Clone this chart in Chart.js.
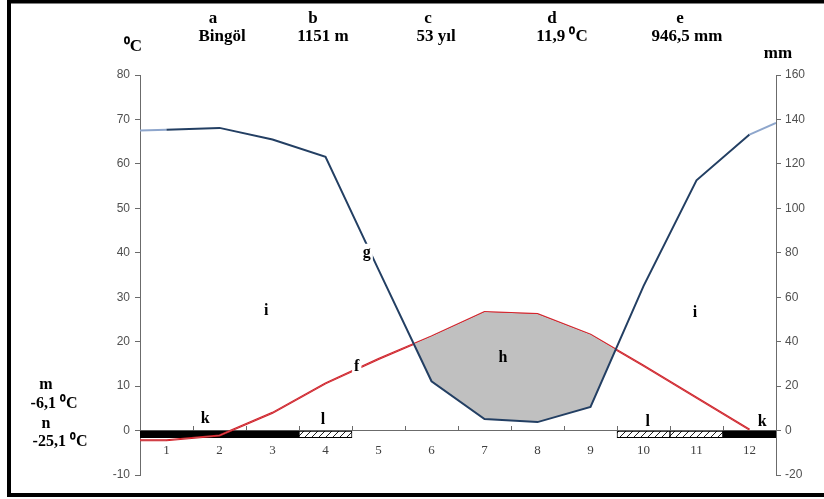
<!DOCTYPE html>
<html>
<head>
<meta charset="utf-8">
<script src="https://cdn.jsdelivr.net/npm/chart.js"></script>
<style>
  html, body { margin: 0; padding: 0; background: #fff; }
  #wrap { width: 824px; height: 499px; }
</style>
</head>
<body>
<div id="wrap"><canvas id="climateChart" width="824" height="499"></canvas></div>
<script>
// Bingöl climate diagram (Walter-Lieth style)
const months = ['1', '2', '3', '4', '5', '6', '7', '8', '9', '10', '11', '12'];
const temperature = [-2.2, -1.1, 4.0, 10.6, 16.1, 21.2, 26.7, 26.2, 21.6, 14.6, 7.4, 0.2];
const precipitation = [135.4, 136.2, 131.0, 123.2, 72.4, 22.2, 5.2, 3.8, 10.6, 65.0, 112.6, 133.2];
// values at the left / right border of the diagram
const tempBorderLeft = -2.2;
const precipBorders = [135.0, 138.4];
// k = frost months, l = possible frost months
const frost = ['k', 'k', 'k', 'l', null, null, null, null, null, 'l', 'l', 'k'];

const header = [
  ['a', 'Bingöl'], ['b', '1151 m'], ['c', '53 yıl'], ['d', '11,9 ⁰C'], ['e', '946,5 mm']
];

const frostDepth = 1.6;
const serif = '"Liberation Serif", "Times New Roman", serif';

// hatch pattern for possible frost
const hc = document.createElement('canvas');
hc.width = 7; hc.height = 7;
const hctx = hc.getContext('2d');
hctx.fillStyle = '#fff';
hctx.fillRect(0, 0, 7, 7);
hctx.strokeStyle = '#222';
hctx.lineWidth = 1;
hctx.beginPath();
hctx.moveTo(0, 7); hctx.lineTo(7, 0);
hctx.moveTo(-1, 1); hctx.lineTo(1, -1);
hctx.moveTo(6, 8); hctx.lineTo(8, 6);
hctx.stroke();
const hatch = hctx.createPattern(hc, 'repeat');

const tempPoints = [{x: 0.5, y: tempBorderLeft}].concat(temperature.map((t, i) => ({x: i + 1, y: t})));
const precipPoints = [{x: 0.5, y: precipBorders[0]}]
  .concat(precipitation.map((p, i) => ({x: i + 1, y: p})))
  .concat([{x: 12.5, y: precipBorders[1]}]);

const labelsPlugin = {
  id: 'climateLabels',
  afterDatasetsDraw(chart) {
    const {ctx, scales} = chart;
    const x = scales.x, y = scales.y;
    ctx.save();
    ctx.font = 'bold 16px ' + serif;
    ctx.fillStyle = '#000';
    ctx.textAlign = 'center';
    ctx.textBaseline = 'middle';
    const inner = [
      ['g', 4.78, 40, true], ['f', 4.59, 14.4, true],
      ['i', 2.88, 27], ['i', 10.97, 26.5], ['h', 7.35, 16.4],
      ['k', 1.73, 2.7], ['k', 12.24, 2.0], ['l', 3.95, 2.5], ['l', 10.08, 2.0]
    ];
    inner.forEach(([t, vx, vy, boxed]) => {
      const px = x.getPixelForValue(vx), py = y.getPixelForValue(vy);
      if (boxed) {
        const w = ctx.measureText(t).width + 4;
        ctx.fillStyle = '#fff';
        ctx.fillRect(px - w / 2, py - 9, w, 18);
        ctx.fillStyle = '#000';
      }
      ctx.fillText(t, px, py);
    });
    ctx.restore();
  },
  afterDraw(chart) {
    const ctx = chart.ctx;
    ctx.save();
    ctx.fillStyle = '#000';
    ctx.textAlign = 'center';
    ctx.textBaseline = 'middle';
    ctx.font = 'bold 17px ' + serif;
    const hx = [[213, 222], [313, 323], [428, 436], [552, 562], [680, 687]];
    header.forEach(([l, v], i) => {
      ctx.fillText(l, hx[i][0], 19);
      ctx.fillText(v, hx[i][1], 37);
    });
    ctx.fillText('⁰C', 133, 47);
    ctx.fillText('mm', 778, 54);
    ctx.font = 'bold 16px ' + serif;
    ctx.fillText('m', 46, 385);
    ctx.fillText('-6,1 ⁰C', 54, 404);
    ctx.fillText('n', 46, 424);
    ctx.fillText('-25,1 ⁰C', 60, 442);
    // frame
    ctx.strokeStyle = '#000';
    ctx.lineWidth = 4;
    ctx.strokeRect(9, 1.5, 830, 493.5);
    ctx.restore();
  }
};

const ctx = document.getElementById('climateChart').getContext('2d');
const axisGray = '#6b6b6b';

const climateChart = new Chart(ctx, {
  type: 'line',
  data: {
    datasets: [
      {
        type: 'bar',
        label: 'Don',
        xAxisID: 'xc',
        yAxisID: 'y',
        data: frost.map(f => (f ? [0, -frostDepth] : null)),
        backgroundColor: c => (frost[c.dataIndex] === 'k' ? '#000' : frost[c.dataIndex] === 'l' ? hatch : 'rgba(0,0,0,0)'),
        borderColor: '#000',
        borderWidth: c => (frost[c.dataIndex] === 'l' ? 1 : 0),
        borderSkipped: false,
        grouped: false,
        barPercentage: 1,
        categoryPercentage: 1,
        order: 3
      },
      {
        type: 'line',
        label: 'Sıcaklık',
        xAxisID: 'x',
        yAxisID: 'y',
        data: tempPoints,
        borderColor: '#d4232b',
        borderWidth: 2,
        pointRadius: 0,
        tension: 0,
        fill: false,
        order: 2
      },
      {
        type: 'line',
        label: 'Yağış',
        xAxisID: 'x',
        yAxisID: 'y2',
        data: precipPoints,
        borderColor: '#233f63',
        segment: {
          borderColor: s => (s.p0DataIndex === 0 || s.p1DataIndex === precipPoints.length - 1 ? '#8ea6cc' : undefined)
        },
        borderWidth: 2,
        pointRadius: 0,
        tension: 0,
        fill: {target: 1, above: 'rgba(0,0,0,0)', below: '#c0c0c0'},
        order: 1
      }
    ]
  },
  options: {
    responsive: false,
    animation: false,
    layout: {padding: {top: 75, bottom: 24, left: 0, right: 0}},
    plugins: {
      legend: {display: false},
      tooltip: {enabled: false}
    },
    scales: {
      x: {
        type: 'linear',
        min: 0.5,
        max: 12.5,
        position: {y: 0},
        afterBuildTicks: s => { s.ticks = months.map((m, i) => ({value: i + 1})); },
        ticks: {
          callback: v => months[v - 1],
          color: '#404040',
          font: {family: serif, size: 13},
          padding: 12,
          maxRotation: 0,
          autoSkip: false
        },
        grid: {drawOnChartArea: false, drawTicks: false},
        border: {color: axisGray, width: 1}
      },
      xb: {
        type: 'linear',
        min: 0.5,
        max: 12.5,
        position: {y: 0},
        afterBuildTicks: s => { s.ticks = months.slice(1).map((m, i) => ({value: i + 1.5})); },
        ticks: {display: false},
        grid: {drawOnChartArea: false, tickLength: -5, color: axisGray},
        border: {display: false}
      },
      xc: {
        type: 'category',
        labels: months,
        offset: true,
        display: false
      },
      y: {
        position: 'left',
        min: -10,
        max: 80,
        ticks: {stepSize: 10, color: '#505050', font: {family: '"Liberation Sans", Arial, sans-serif', size: 12}, padding: 5},
        grid: {drawOnChartArea: false, tickLength: 5, color: axisGray},
        border: {color: axisGray, width: 1},
        afterFit: s => { s.width = 140; }
      },
      y2: {
        position: 'right',
        min: -20,
        max: 160,
        ticks: {stepSize: 20, color: '#505050', font: {family: '"Liberation Sans", Arial, sans-serif', size: 12}, padding: 4},
        grid: {drawOnChartArea: false, tickLength: 5, color: axisGray},
        border: {color: axisGray, width: 1},
        afterFit: s => { s.width = 48; }
      }
    }
  },
  plugins: [labelsPlugin]
});
</script>
</body>
</html>
